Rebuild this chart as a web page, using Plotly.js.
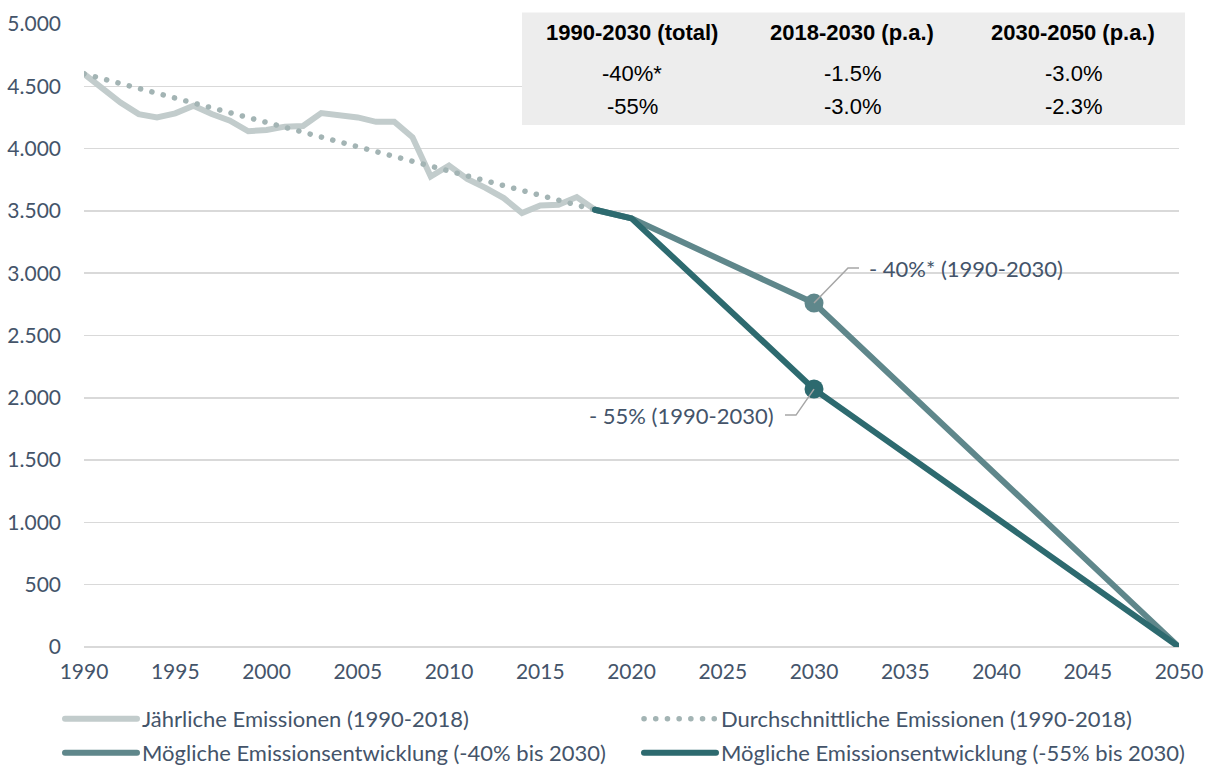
<!DOCTYPE html>
<html>
<head>
<meta charset="utf-8">
<script src="https://cdn.plot.ly/plotly-3.0.1.min.js"></script>
<style>
  html, body { margin: 0; padding: 0; background: #ffffff; }
  #chart { width: 1211px; height: 773px; }
  .js-line { stroke-linecap: round; }
</style>
</head>
<body>
<div id="chart"></div>
<script>
// ---- Data ----
const histYears = [1990,1991,1992,1993,1994,1995,1996,1997,1998,1999,2000,2001,2002,2003,2004,2005,2006,2007,2008,2009,2010,2011,2012,2013,2014,2015,2016,2017,2018];
const histValues = [4600,4482,4370,4277,4250,4283,4344,4277,4224,4139,4150,4176,4181,4285,4270,4250,4215,4215,4091,3776,3864,3757,3685,3603,3483,3544,3549,3611,3509];
const avgValues = [4600,4561,4522,4483,4444,4405,4366,4327,4288,4249,4210,4171,4132,4093,4054,4015,3976,3937,3898,3859,3820,3781,3742,3703,3664,3625,3586,3547,3508];

const projYears = [2018, 2020, 2030, 2050];
const proj40 = [3509, 3440, 2760, 0];
const proj55 = [3509, 3440, 2070, 0];
const markerYear = 2030;

const seriesNames = [
  "Jährliche Emissionen (1990-2018)",
  "Durchschnittliche Emissionen (1990-2018)",
  "Mögliche Emissionsentwicklung (-40% bis 2030)",
  "Mögliche Emissionsentwicklung (-55% bis 2030)"
];

const annoTexts = ["- 40%* (1990-2030)", "- 55% (1990-2030)"];

const tableHeader = ["1990-2030 (total)", "2018-2030 (p.a.)", "2030-2050 (p.a.)"];
const tableRow1 = ["-40%*", "-1.5%", "-3.0%"];
const tableRow2 = ["-55%", "-3.0%", "-2.3%"];

// ---- Styles ----
const TXT = "#44546A";
const FONT = "Lato, 'Open Sans', sans-serif";
const TFONT = "'Liberation Sans', Arial, sans-serif";
const cHist = "#c2cccc", cAvg = "#a3b4b4", c40 = "#5f878b", c55 = "#2d6a6f";

const idx = projYears.indexOf(markerYear);

const traces = [
  { x: histYears, y: histValues, name: seriesNames[0], type: "scatter", mode: "lines",
    line: { color: cHist, width: 6 }, legend: "legend", hoverinfo: "skip" },
  { x: histYears, y: avgValues, name: seriesNames[1], type: "scatter", mode: "lines",
    line: { color: cAvg, width: 5.5, dash: "0.1px,11.6px" }, legend: "legend2", hoverinfo: "skip" },
  { x: projYears, y: proj40, name: seriesNames[2], type: "scatter", mode: "lines",
    line: { color: c40, width: 6 }, legend: "legend3", hoverinfo: "skip" },
  { x: projYears, y: proj55, name: seriesNames[3], type: "scatter", mode: "lines",
    line: { color: c55, width: 6 }, legend: "legend4", hoverinfo: "skip" },
  { x: [projYears[idx]], y: [proj40[idx]], type: "scatter", mode: "markers", showlegend: false,
    marker: { color: c40, size: 19 }, hoverinfo: "skip" },
  { x: [projYears[idx]], y: [proj55[idx]], type: "scatter", mode: "markers", showlegend: false,
    marker: { color: c55, size: 19 }, hoverinfo: "skip" }
];

// paper helpers (plot area: x 84..1179, y 24..647)
const L = 84, R = 1179, T = 24, B = 647;
const px = v => (v - L) / (R - L);
const py = v => (B - v) / (B - T);

function legendCfg(xpx, ypx) {
  return {
    x: px(xpx), y: py(ypx), xanchor: "left", yanchor: "middle",
    orientation: "h", bgcolor: "rgba(0,0,0,0)", borderwidth: 0,
    itemwidth: 72, font: { family: FONT, size: 22, color: TXT }
  };
}

const shapes = [];
const annotations = [];

// table background
shapes.push({ type: "rect", xref: "paper", yref: "paper",
  x0: px(522), x1: px(1185), y0: py(125), y1: py(12.5),
  fillcolor: "#ededed", line: { width: 0 }, layer: "above" });

const colCenters = [632, 852, 1073];
const rowCenters = [32.7, 73.7, 106.5];
[tableHeader, tableRow1, tableRow2].forEach((row, ri) => {
  row.forEach((txt, ci) => {
    annotations.push({ xref: "paper", yref: "paper", x: px(colCenters[ci]), y: py(rowCenters[ri]),
      xanchor: "center", yanchor: "middle", showarrow: false, text: ri === 0 ? "<b>" + txt + "</b>" : txt,
      font: { family: TFONT, size: 22, color: "#000000" } });
  });
});

// leader lines anchored to the 2030 data points
shapes.push({ type: "path", xref: "x", yref: "y", xsizemode: "pixel", ysizemode: "pixel",
  xanchor: markerYear, yanchor: proj40[idx], path: "M0,0 L34,35 L45,35",
  line: { color: "#a6a6a6", width: 1.5 }, layer: "above" });
shapes.push({ type: "path", xref: "x", yref: "y", xsizemode: "pixel", ysizemode: "pixel",
  xanchor: markerYear, yanchor: proj55[idx], path: "M0,0 L-18,-26 L-29,-26",
  line: { color: "#a6a6a6", width: 1.5 }, layer: "above" });

annotations.push({ x: markerYear, y: proj40[idx], xref: "x", yref: "y", showarrow: false,
  text: annoTexts[0], xanchor: "left", yanchor: "middle", xshift: 53, yshift: 35,
  font: { family: FONT, size: 22, color: TXT } });
annotations.push({ x: markerYear, y: proj55[idx], xref: "x", yref: "y", showarrow: false,
  text: annoTexts[1], xanchor: "right", yanchor: "middle", xshift: -38, yshift: -26,
  font: { family: FONT, size: 22, color: TXT } });

const layout = {
  width: 1211, height: 773,
  margin: { l: L, r: 1211 - R, t: T, b: 773 - B, autoexpand: false },
  paper_bgcolor: "#ffffff", plot_bgcolor: "#ffffff",
  separators: ",.",
  showlegend: true,
  xaxis: {
    range: [1990, 2050], tick0: 1990, dtick: 5, tickformat: "d",
    showgrid: false, zeroline: false, showline: false, ticks: "",
    ticklabelstandoff: 10,
    tickfont: { family: FONT, size: 21, color: TXT }
  },
  yaxis: {
    range: [0, 5000], dtick: 500, tickformat: ",.0f",
    showgrid: true, gridcolor: "#d9d9d9", gridwidth: 1.5,
    zeroline: true, zerolinecolor: "#d9d9d9", zerolinewidth: 1.5,
    showline: false, ticks: "", ticklabelstandoff: 22,
    tickfont: { family: FONT, size: 21, color: TXT }
  },
  legend: legendCfg(60, 719),
  legend2: legendCfg(639, 719),
  legend3: legendCfg(60, 753),
  legend4: legendCfg(639, 753),
  shapes: shapes,
  annotations: annotations
};

Plotly.newPlot("chart", traces, layout, { staticPlot: true, displayModeBar: false });
</script>
</body>
</html>
